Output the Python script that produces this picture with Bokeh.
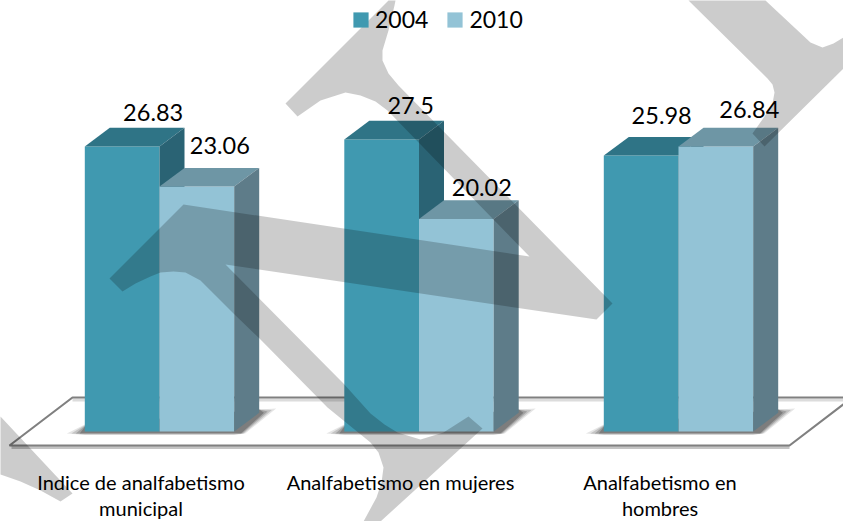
from bokeh.plotting import figure
from bokeh.models import Range1d, Legend, LegendItem, ColumnDataSource
from bokeh.core.properties import value
from bokeh.embed import file_html
from bokeh.resources import INLINE

# ---- data ----
categories = ["Indice de analfabetismo\nmunicipal", "Analfabetismo en mujeres", "Analfabetismo en\nhombres"]
years = ["2004", "2010"]
values_2004 = [26.83, 27.5, 25.98]
values_2010 = [23.06, 20.02, 26.84]

# ---- geometry ----
W, H = 843, 521
BASE_PX = 431.0
PX_PER_UNIT = 10.62
group_centers = [159.0, 418.5, 678.0]
bar_w = 74.7
depth_x = 25.0
depth_y = 18.7 / PX_PER_UNIT


def Y(px):
    return (BASE_PX - px) / PX_PER_UNIT


label_dx_2004 = [31, 29, 20.5]
label_dy_2004 = [-34, -34, -40]
label_dx_2010 = [23, 25.5, 33.5]
label_dy_2010 = [-41, -31, -37]

# ---- watermark outline (reference pixels) ----
wm_a_x = [109, 183, 529, 387, 375, 360, 345, 320, 297, 285, 388, 395, 394, 388, 382, 382, 388, 398, 612, 596, 225,
          343, 370, 384, 397, 420, 443, 468, 482, 380, 363, 376, 381, 383, 378, 370, 327, 259, 233, 215, 200, 185, 173, 160, 150, 135, 122]
wm_a_y = [278, 204, 256, 110, 101, 95, 92, 100, 116, 103, 0, 0, 5, 30, 50, 60, 73, 85, 303, 319, 264,
          383, 413, 424, 432, 439, 432, 416, 428, 521, 521, 497, 482, 467, 452, 442, 407, 338, 313, 295, 280, 272, 271, 272, 276, 283, 291]
wm_b_x = [688, 767, 772, 774, 772, 764, 752, 764, 843, 843, 833, 822, 810, 765]
wm_b_y = [0, 78, 84, 92, 103, 116, 133, 146, 68, 37, 43, 47, 42, 0]
wm_c_x = [0, 72, 60, 40, 20, 0]
wm_c_y = [416, 493, 501, 490, 481, 474]

p = figure(width=W, height=H, output_backend="svg", toolbar_location=None,
           x_range=Range1d(0, W), y_range=Range1d(Y(H), Y(0)),
           x_axis_location=None, y_axis_location=None,
           min_border=0, outline_line_color=None,
           styles={"position": "absolute", "left": "0px", "top": "0px"})
p.grid.visible = False

# floor
floor_x = [853, 72, 9, 789, 852]
floor_y = [397, 397, 445, 445, 397]
p.line([852, 72], [Y(399.5)] * 2, line_color="#dcdcdc", line_width=3)
p.line([11, 789], [Y(447)] * 2, line_color="#c4c4c4", line_width=3)
p.line(floor_x, [Y(v) for v in floor_y], line_color="#808080", line_width=2.2)

# soft bar shadows on the floor
for k, a in [(1.0, 0.10), (0.75, 0.14), (0.5, 0.18), (0.28, 0.22)]:
    xs, ys = [], []
    for c in group_centers:
        L, R = c - bar_w, c + bar_w
        xs.append([L, L - 18 * k, L, R, R + 5 + 6 * k, R + 25 + 17 * k, R + 25])
        ys.append([Y(424 + 3 * (1 - k)), Y(433), Y(432 + 2.5 * k), Y(432 + 2.5 * k), Y(433), Y(408 + 6 * (1 - k)), Y(409)])
    p.patches(xs, ys, fill_color="#000000", fill_alpha=a, line_color=None)


def draw_bars(vals, left_off, front, top, side):
    lefts = [c + left_off for c in group_centers]
    rights = [l + bar_w for l in lefts]
    r = p.quad(left=lefts, right=rights, bottom=[0] * 3, top=vals,
               fill_color=front, line_color=None)
    p.patches([[l, l + depth_x, x + depth_x, x] for l, x in zip(lefts, rights)],
              [[v, v + depth_y, v + depth_y, v] for v in vals],
              fill_color=top, line_color=None)
    p.patches([[x, x + depth_x, x + depth_x, x] for x in rights],
              [[0, depth_y, v + depth_y, v] for v in vals],
              fill_color=side, line_color=None)
    return r


r04 = draw_bars(values_2004, -bar_w, "#4099B0", "#2F7486", "#2A6374")
r10 = draw_bars(values_2010, 0, "#93C3D6", "#6E96A5", "#5E7C89")

# value labels
lab = ColumnDataSource(dict(
    x=[c - bar_w / 2 + d for c, d in zip(group_centers, label_dx_2004)] +
      [c + bar_w / 2 + d for c, d in zip(group_centers, label_dx_2010)],
    y=values_2004 + values_2010,
    t=[str(v) for v in values_2004 + values_2010],
    o=label_dy_2004 + label_dy_2010,
))
p.text("x", "y", text="t", source=lab, text_font=value("Lato"), text_font_size="23.5px",
       text_color="#000000", text_align="center", text_baseline="alphabetic",
       text_line_height=1.0, y_offset="o")

# category labels, one text per line
for row, off in [(0, 50), (1, 76)]:
    xs, ts = [], []
    for c, name in zip(group_centers, categories):
        parts = name.split("\n")
        if row < len(parts):
            xs.append(c - 18.5)
            ts.append(parts[row])
    p.text(xs, [0] * len(xs), text=ts, text_font=value("Lato"),
           text_font_size="20px", text_color="#000000", text_align="center",
           text_baseline="alphabetic", text_line_height=1.0, y_offset=off)

# legend
leg = Legend(items=[LegendItem(label=years[0], renderers=[r04]), LegendItem(label=years[1], renderers=[r10])],
             orientation="horizontal", location=(351, H - 33), glyph_width=19, glyph_height=19,
             label_standoff=5, spacing=17, padding=0, margin=0,
             label_text_font="Lato", label_text_font_size="23px", label_text_color="#000000",
             background_fill_alpha=0, border_line_color=None)
p.add_layout(leg, "center")

# watermark over everything
p.patches([wm_a_x, wm_b_x, wm_c_x],
          [[Y(v) for v in wm_a_y], [Y(v) for v in wm_b_y], [Y(v) for v in wm_c_y]],
          fill_color="#000000", fill_alpha=0.2, line_color=None, level="overlay")

open("out.html", "w").write(file_html(p, INLINE))
